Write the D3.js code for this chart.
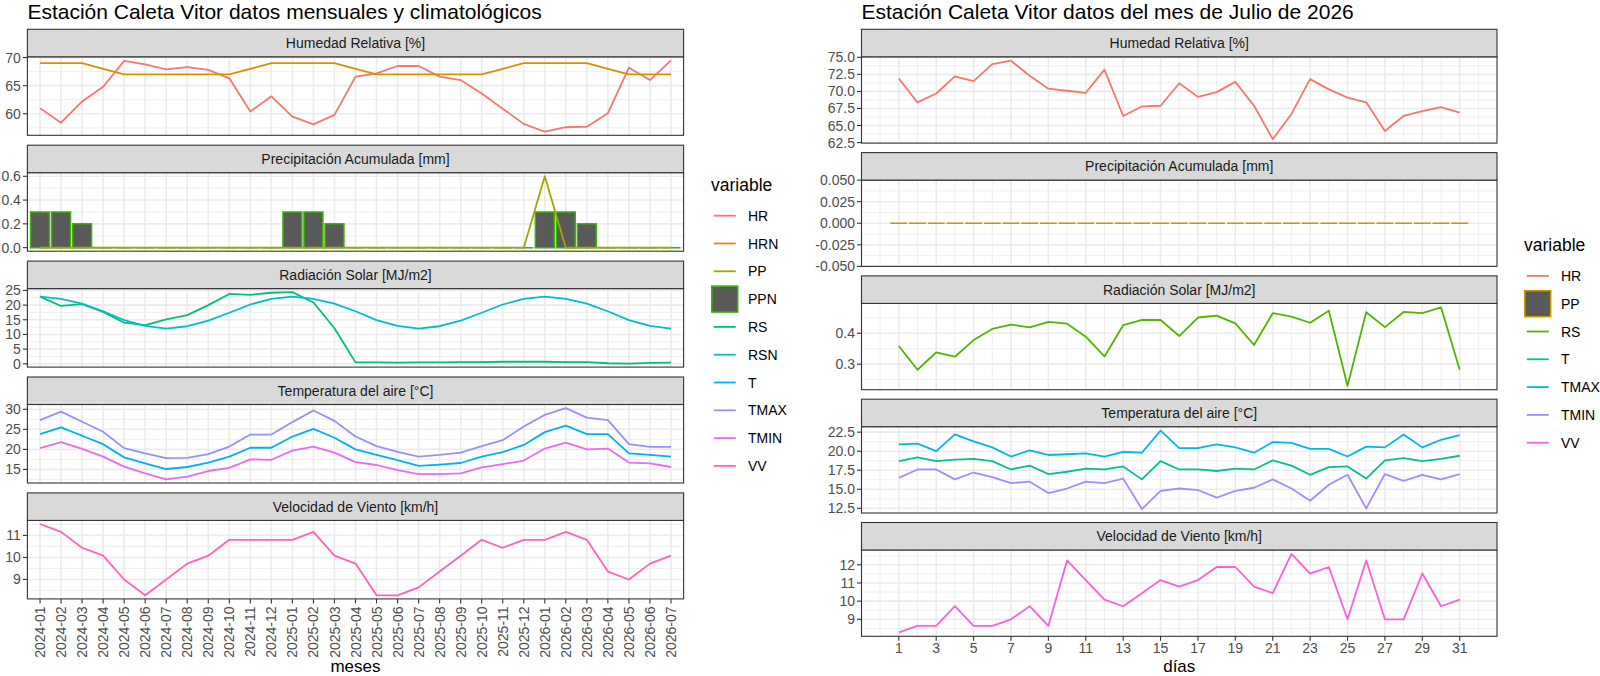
<!DOCTYPE html>
<html>
<head>
<meta charset="utf-8">
<style>
  body { margin: 0; background: #fff; }
  svg { display: block; font-family: "Liberation Sans", Arial, sans-serif; }
  .tick-label { font-size: 14px; fill: #4d4d4d; }
  .strip-text { font-size: 14px; fill: #1a1a1a; text-anchor: middle; }
  .titulo { font-size: 21px; fill: #000; }
  .eje-titulo { font-size: 17px; fill: #000; text-anchor: middle; }
  .leyenda-titulo { font-size: 17.5px; fill: #000; }
  .leyenda-texto { font-size: 14px; fill: #000; }
</style>
<script src="https://d3js.org/d3.v7.min.js"></script>
</head>
<body>
<script>
// ---- datos mensuales (izquierda) ----
const meses = ["2024-01","2024-02","2024-03","2024-04","2024-05","2024-06","2024-07","2024-08","2024-09","2024-10","2024-11","2024-12",
               "2025-01","2025-02","2025-03","2025-04","2025-05","2025-06","2025-07","2025-08","2025-09","2025-10","2025-11","2025-12",
               "2026-01","2026-02","2026-03","2026-04","2026-05","2026-06","2026-07"];
const hr   = [61.0,58.4,62.2,64.8,69.4,68.8,67.9,68.3,67.8,66.3,60.4,63.1,59.5,58.1,59.8,66.6,67.2,68.5,68.5,66.6,66.0,63.6,60.9,58.2,56.8,57.6,57.7,60.1,68.2,66.0,69.5];
const hrn  = [69,69,69,68,67,67,67,67,67,67,68,69,69,69,69,68,67,67,67,67,67,67,68,69,69,69,69,68,67,67,67];
const pp   = [0,0,0,0,0,0,0,0,0,0,0,0,0,0,0,0,0,0,0,0,0,0,0,0,0.6,0,0,0,0,0,0];
const ppn  = [0.3,0.3,0.2,0,0,0,0,0,0,0,0,0,0.3,0.3,0.2,0,0,0,0,0,0,0,0,0,0.3,0.3,0.2,0,0,0,0];
const rs   = [22.9,19.7,20.3,17.7,14.0,13.2,15.1,16.6,20.0,23.8,23.5,24.2,24.4,20.9,12.1,0.5,0.5,0.4,0.5,0.5,0.6,0.6,0.7,0.7,0.7,0.6,0.6,0.2,0.1,0.3,0.4];
const rsn  = [22.9,22.1,20.5,17.9,14.9,12.9,12.0,12.8,14.7,17.4,20.2,22.1,22.9,22.1,20.5,17.9,14.9,12.9,12.0,12.8,14.7,17.4,20.2,22.1,22.9,22.1,20.5,17.9,14.9,12.9,12.0];
const tmed = [23.8,25.5,23.4,21.3,18.0,16.5,15.1,15.6,16.7,18.2,20.4,20.4,23.2,25.1,22.9,20.0,18.6,17.3,15.9,16.2,16.6,18.2,19.3,21.1,24.3,25.9,23.8,23.8,19.0,18.6,18.2];
const tmax = [27.3,29.4,26.9,24.4,20.3,19.0,17.8,17.9,18.8,20.7,23.7,23.7,26.8,29.7,27.1,23.2,20.8,19.4,18.2,18.6,19.2,20.8,22.3,25.7,28.6,30.3,27.9,27.3,21.3,20.6,20.6];
const tmin = [20.3,21.8,20.1,18.2,15.7,14.0,12.5,13.2,14.6,15.4,17.5,17.4,19.7,20.7,19.2,16.8,16.1,14.8,13.8,13.8,14.0,15.5,16.3,17.2,20.2,21.7,20.0,20.2,16.7,16.5,15.6];
const vv   = [11.52,11.16,10.44,10.08,9.0,8.28,9.0,9.72,10.08,10.8,10.8,10.8,10.8,11.16,10.08,9.72,8.28,8.28,8.64,9.36,10.08,10.8,10.44,10.8,10.8,11.16,10.8,9.36,9.0,9.72,10.08];

// ---- datos diarios (derecha) ----
const dias    = [1,2,3,4,5,6,7,8,9,10,11,12,13,14,15,16,17,18,19,20,21,22,23,24,25,26,27,28,29,30,31];
const hrDia   = [71.9,68.4,69.7,72.2,71.5,74.0,74.5,72.3,70.4,70.1,69.8,73.2,66.4,67.8,67.9,71.2,69.2,69.9,71.4,67.9,63.0,66.7,71.8,70.3,69.1,68.4,64.2,66.4,67.1,67.7,66.9];
const ppDia   = [0,0,0,0,0,0,0,0,0,0,0,0,0,0,0,0,0,0,0,0,0,0,0,0,0,0,0,0,0,0,0];
const rsDia   = [0.359,0.282,0.338,0.324,0.378,0.414,0.428,0.419,0.437,0.431,0.389,0.325,0.426,0.443,0.443,0.391,0.451,0.457,0.432,0.362,0.465,0.454,0.434,0.473,0.230,0.468,0.420,0.469,0.465,0.484,0.282];
const tDia    = [18.7,19.2,18.7,18.9,19.0,18.7,17.6,18.1,17.0,17.3,17.7,17.6,18.0,16.3,18.7,17.6,17.6,17.4,17.7,17.6,18.8,18.1,16.9,17.9,18.0,16.4,18.8,19.1,18.7,19.0,19.4];
const tmaxDia = [20.9,21.0,20.0,22.2,21.3,20.5,19.3,20.1,19.5,19.6,19.7,19.3,19.9,19.8,22.7,20.4,20.4,20.9,20.5,19.8,21.2,21.1,20.3,20.3,19.3,20.6,20.5,22.2,20.5,21.5,22.1];
const tminDia = [16.5,17.6,17.6,16.3,17.2,16.6,15.8,16.0,14.5,15.1,16.0,15.8,16.4,12.4,14.8,15.1,14.9,13.9,14.8,15.2,16.3,15.1,13.5,15.6,16.9,12.5,17.0,16.1,16.9,16.3,17.0];
const vvDia   = [8.28,8.64,8.64,9.72,8.64,8.64,9.0,9.72,8.64,12.24,11.16,10.08,9.72,10.44,11.16,10.8,11.16,11.88,11.88,10.8,10.44,12.6,11.52,11.88,9.0,12.24,9.0,9.0,11.52,9.72,10.08];

// ---- textos y marcas de ejes ----
const paneles = ["Humedad Relativa [%]","Precipitación Acumulada [mm]","Radiación Solar [MJ/m2]","Temperatura del aire [°C]","Velocidad de Viento [km/h]"];
const ticksMes = [[60,65,70],[0,0.2,0.4,0.6],[0,5,10,15,20,25],[15,20,25,30],[9,10,11]];
const ticksDia = [[62.5,65,67.5,70,72.5,75],[-0.05,-0.025,0,0.025,0.05],[0.3,0.4],[12.5,15,17.5,20,22.5],[9,10,11,12]];
const ticksDiasX = [1,3,5,7,9,11,13,15,17,19,21,23,25,27,29,31];
const varsMes = ["HR","HRN","PP","PPN","RS","RSN","T","TMAX","TMIN","VV"];
const varsDia = ["HR","PP","RS","T","TMAX","TMIN","VV"];

const W = 1600, H = 676;
const STRIP = 27.5;
const svg = d3.select("body").append("svg").attr("width", W).attr("height", H);

const colMes = d3.scaleOrdinal(varsMes, ["#F8766D","#D89000","#A3A500","#39B600","#00BF7D","#00BFC4","#00B0F6","#9590FF","#E76BF3","#FF62BC"]);
const colDia = d3.scaleOrdinal(varsDia, ["#F8766D","#C49A00","#53B400","#00C094","#00B6EB","#A58AFF","#FB61D7"]);

function expandir(vals) {
  const lo = d3.min(vals), hi = d3.max(vals);
  if (hi - lo === 0) return [lo - 0.05, hi + 0.05];
  const e = (hi - lo) * 0.05;
  return [lo - e, hi + e];
}

// dibuja un panel con su franja; devuelve la escala y
function panel(cfg) {
  const g = svg.append("g");
  const yTop = cfg.top + STRIP, yBot = yTop + cfg.h;
  const y = d3.scaleLinear().domain(cfg.yDomain).range([yBot, yTop]);
  g.append("rect").attr("x", cfg.x0).attr("y", yTop).attr("width", cfg.x1 - cfg.x0).attr("height", cfg.h).attr("fill", "#fff");

  // rejilla menor y
  const st = cfg.yTicks[1] - cfg.yTicks[0];
  const menores = [];
  cfg.yTicks.forEach(t => menores.push(t - st / 2));
  menores.push(cfg.yTicks[cfg.yTicks.length - 1] + st / 2);
  g.selectAll(".ymin").data(menores.filter(v => v > cfg.yDomain[0] && v < cfg.yDomain[1])).enter()
    .append("line").attr("x1", cfg.x0).attr("x2", cfg.x1)
    .attr("y1", d => y(d)).attr("y2", d => y(d))
    .attr("stroke", "#ebebeb").attr("stroke-width", 0.8);
  // rejilla menor x
  g.selectAll(".xmin").data(cfg.xMinor || []).enter()
    .append("line").attr("y1", yTop).attr("y2", yBot)
    .attr("x1", d => d).attr("x2", d => d)
    .attr("stroke", "#ebebeb").attr("stroke-width", 0.8);
  // rejilla mayor
  g.selectAll(".ymaj").data(cfg.yTicks).enter()
    .append("line").attr("x1", cfg.x0).attr("x2", cfg.x1)
    .attr("y1", d => y(d)).attr("y2", d => y(d))
    .attr("stroke", "#ebebeb").attr("stroke-width", 1.6);
  g.selectAll(".xmaj").data(cfg.xMajor).enter()
    .append("line").attr("y1", yTop).attr("y2", yBot)
    .attr("x1", d => d).attr("x2", d => d)
    .attr("stroke", "#ebebeb").attr("stroke-width", 1.6);

  // capas
  cfg.layers(g, y);

  // borde del panel
  g.append("rect").attr("x", cfg.x0).attr("y", yTop).attr("width", cfg.x1 - cfg.x0).attr("height", cfg.h)
    .attr("fill", "none").attr("stroke", "#333").attr("stroke-width", 1.1);
  // franja
  g.append("rect").attr("x", cfg.x0).attr("y", cfg.top).attr("width", cfg.x1 - cfg.x0).attr("height", STRIP)
    .attr("fill", "#d9d9d9").attr("stroke", "#333").attr("stroke-width", 1.1);
  g.append("text").attr("class", "strip-text").attr("x", (cfg.x0 + cfg.x1) / 2).attr("y", cfg.top + STRIP / 2 + 5)
    .text(cfg.label);

  // eje y
  const fmt = d3.format(cfg.yFmt);
  g.selectAll(".yt").data(cfg.yTicks).enter().append("line")
    .attr("x1", cfg.x0 - 4.5).attr("x2", cfg.x0).attr("y1", d => y(d)).attr("y2", d => y(d))
    .attr("stroke", "#333").attr("stroke-width", 1.1);
  g.selectAll(".yl").data(cfg.yTicks).enter().append("text")
    .attr("class", "tick-label").attr("text-anchor", "end")
    .attr("x", cfg.x0 - 6.5).attr("y", d => y(d) + 5)
    .text(d => fmt(d).replace("−", "-"));
  return { y, yBot };
}

function linea(g, xs, ys, y, color) {
  const l = d3.line().x((d, i) => xs[i]).y(d => y(d));
  g.append("path").datum(ys).attr("d", l).attr("fill", "none")
    .attr("stroke", color).attr("stroke-width", 1.8).attr("stroke-linejoin", "round");
}

function barras(g, xs, ys, y, w, color) {
  g.selectAll(null).data(ys).enter().append("path")
    .attr("d", (d, i) => {
      const a = xs[i] - w / 2, b = xs[i] + w / 2, y0 = y(0), y1 = y(d);
      return `M${a},${y0}H${b}V${y1}H${a}Z`;
    })
    .attr("fill", "#595959").attr("stroke", color).attr("stroke-width", 1.5);
}

// ================= gráfico izquierdo =================
const L = { x0: 27.4, x1: 683.6, top0: 29.3, period: 115.9, h: 78.5 };
const xMes = d3.scalePoint().domain(meses).range([L.x0, L.x1]).padding(0.6);
const xm = meses.map(m => xMes(m));
const bwMes = xMes.step() * 0.9;

svg.append("text").attr("class", "titulo").attr("x", L.x0).attr("y", 19)
  .text("Estación Caleta Vitor datos mensuales y climatológicos");

const capasMes = [
  { vals: [hr, hrn], fmt: "d", draw: (g, y) => { linea(g, xm, hr, y, colMes("HR")); linea(g, xm, hrn, y, colMes("HRN")); } },
  { vals: [pp, ppn], fmt: ".1f", draw: (g, y) => { barras(g, xm, ppn, y, bwMes, colMes("PPN")); linea(g, xm, pp, y, colMes("PP")); } },
  { vals: [rs, rsn], fmt: "d", draw: (g, y) => { linea(g, xm, rs, y, colMes("RS")); linea(g, xm, rsn, y, colMes("RSN")); } },
  { vals: [tmed, tmax, tmin], fmt: "d", draw: (g, y) => { linea(g, xm, tmed, y, colMes("T")); linea(g, xm, tmax, y, colMes("TMAX")); linea(g, xm, tmin, y, colMes("TMIN")); } },
  { vals: [vv], fmt: "d", draw: (g, y) => { linea(g, xm, vv, y, colMes("VV")); } }
];
let ultimoL;
capasMes.forEach((c, i) => {
  ultimoL = panel({
    x0: L.x0, x1: L.x1, top: L.top0 + i * L.period, h: L.h, label: paneles[i],
    yDomain: expandir(c.vals.flat()), yTicks: ticksMes[i], yFmt: c.fmt,
    xMajor: xm, xMinor: [], layers: c.draw
  });
});
// eje x izquierdo
svg.selectAll(".xtm").data(meses).enter().append("line")
  .attr("x1", d => xMes(d)).attr("x2", d => xMes(d))
  .attr("y1", ultimoL.yBot).attr("y2", ultimoL.yBot + 4.5)
  .attr("stroke", "#333").attr("stroke-width", 1.1);
svg.selectAll(".xlm").data(meses).enter().append("text")
  .attr("class", "tick-label").attr("text-anchor", "end")
  .attr("transform", d => `translate(${xMes(d)},${ultimoL.yBot + 7.5}) rotate(-90)`)
  .attr("dy", "0.36em").text(d => d);
svg.append("text").attr("class", "eje-titulo").attr("x", (L.x0 + L.x1) / 2).attr("y", 671.5).text("meses");

// leyendas
function leyenda(x, yTitulo, yFila0, vars, color, barra) {
  const g = svg.append("g");
  g.append("text").attr("class", "leyenda-titulo").attr("x", x).attr("y", yTitulo).text("variable");
  const K = 27.5, paso = 27.8;
  vars.forEach((v, i) => {
    const cy = yFila0 + i * paso;
    if (v === barra) {
      g.append("rect").attr("x", x + 0.8).attr("y", cy - K / 2 + 0.8).attr("width", K - 1.6).attr("height", K - 1.6)
        .attr("fill", "#595959").attr("stroke", color(v)).attr("stroke-width", 1.6);
    } else {
      g.append("line").attr("x1", x + 2.75).attr("x2", x + K - 2.75).attr("y1", cy).attr("y2", cy)
        .attr("stroke", color(v)).attr("stroke-width", 1.8);
    }
    g.append("text").attr("class", "leyenda-texto").attr("x", x + K + 9.5).attr("y", cy + 5).text(v);
  });
}
leyenda(711, 191, 215.7, varsMes, colMes, "PPN");

// ================= gráfico derecho =================
const R = { x0: 861.5, x1: 1497, top0: 29.3, period: 123.3, h: 86.3 };
const dSpan = [d3.min(dias) - 0.45, d3.max(dias) + 0.45];
const dE = (dSpan[1] - dSpan[0]) * 0.05;
const xDia = d3.scaleLinear().domain([dSpan[0] - dE, dSpan[1] + dE]).range([R.x0, R.x1]);
const xd = dias.map(d => xDia(d));
const bwDia = (xDia(1.9) - xDia(1));
const menoresDia = d3.range(0, 33, 2).map(d => xDia(d));

svg.append("text").attr("class", "titulo").attr("x", R.x0).attr("y", 19)
  .text("Estación Caleta Vitor datos del mes de Julio de 2026");

const capasDia = [
  { vals: [hrDia], fmt: ".1f", draw: (g, y) => linea(g, xd, hrDia, y, colDia("HR")) },
  { vals: [ppDia], fmt: ".3f", draw: (g, y) => barras(g, xd, ppDia, y, bwDia, colDia("PP")) },
  { vals: [rsDia], fmt: ".1f", draw: (g, y) => linea(g, xd, rsDia, y, colDia("RS")) },
  { vals: [tDia, tmaxDia, tminDia], fmt: ".1f", draw: (g, y) => { linea(g, xd, tDia, y, colDia("T")); linea(g, xd, tmaxDia, y, colDia("TMAX")); linea(g, xd, tminDia, y, colDia("TMIN")); } },
  { vals: [vvDia], fmt: "d", draw: (g, y) => linea(g, xd, vvDia, y, colDia("VV")) }
];
let ultimoR;
capasDia.forEach((c, i) => {
  ultimoR = panel({
    x0: R.x0, x1: R.x1, top: R.top0 + i * R.period, h: R.h, label: paneles[i],
    yDomain: expandir(c.vals.flat()), yTicks: ticksDia[i], yFmt: c.fmt,
    xMajor: ticksDiasX.map(d => xDia(d)), xMinor: menoresDia, layers: c.draw
  });
});
svg.selectAll(".xtd").data(ticksDiasX).enter().append("line")
  .attr("x1", d => xDia(d)).attr("x2", d => xDia(d))
  .attr("y1", ultimoR.yBot).attr("y2", ultimoR.yBot + 4.5)
  .attr("stroke", "#333").attr("stroke-width", 1.1);
svg.selectAll(".xld").data(ticksDiasX).enter().append("text")
  .attr("class", "tick-label").attr("text-anchor", "middle")
  .attr("x", d => xDia(d)).attr("y", ultimoR.yBot + 16.5).text(d => d);
svg.append("text").attr("class", "eje-titulo").attr("x", (R.x0 + R.x1) / 2).attr("y", 671.5).text("días");

leyenda(1524, 251, 275.9, varsDia, colDia, "PP");
</script>
</body>
</html>
